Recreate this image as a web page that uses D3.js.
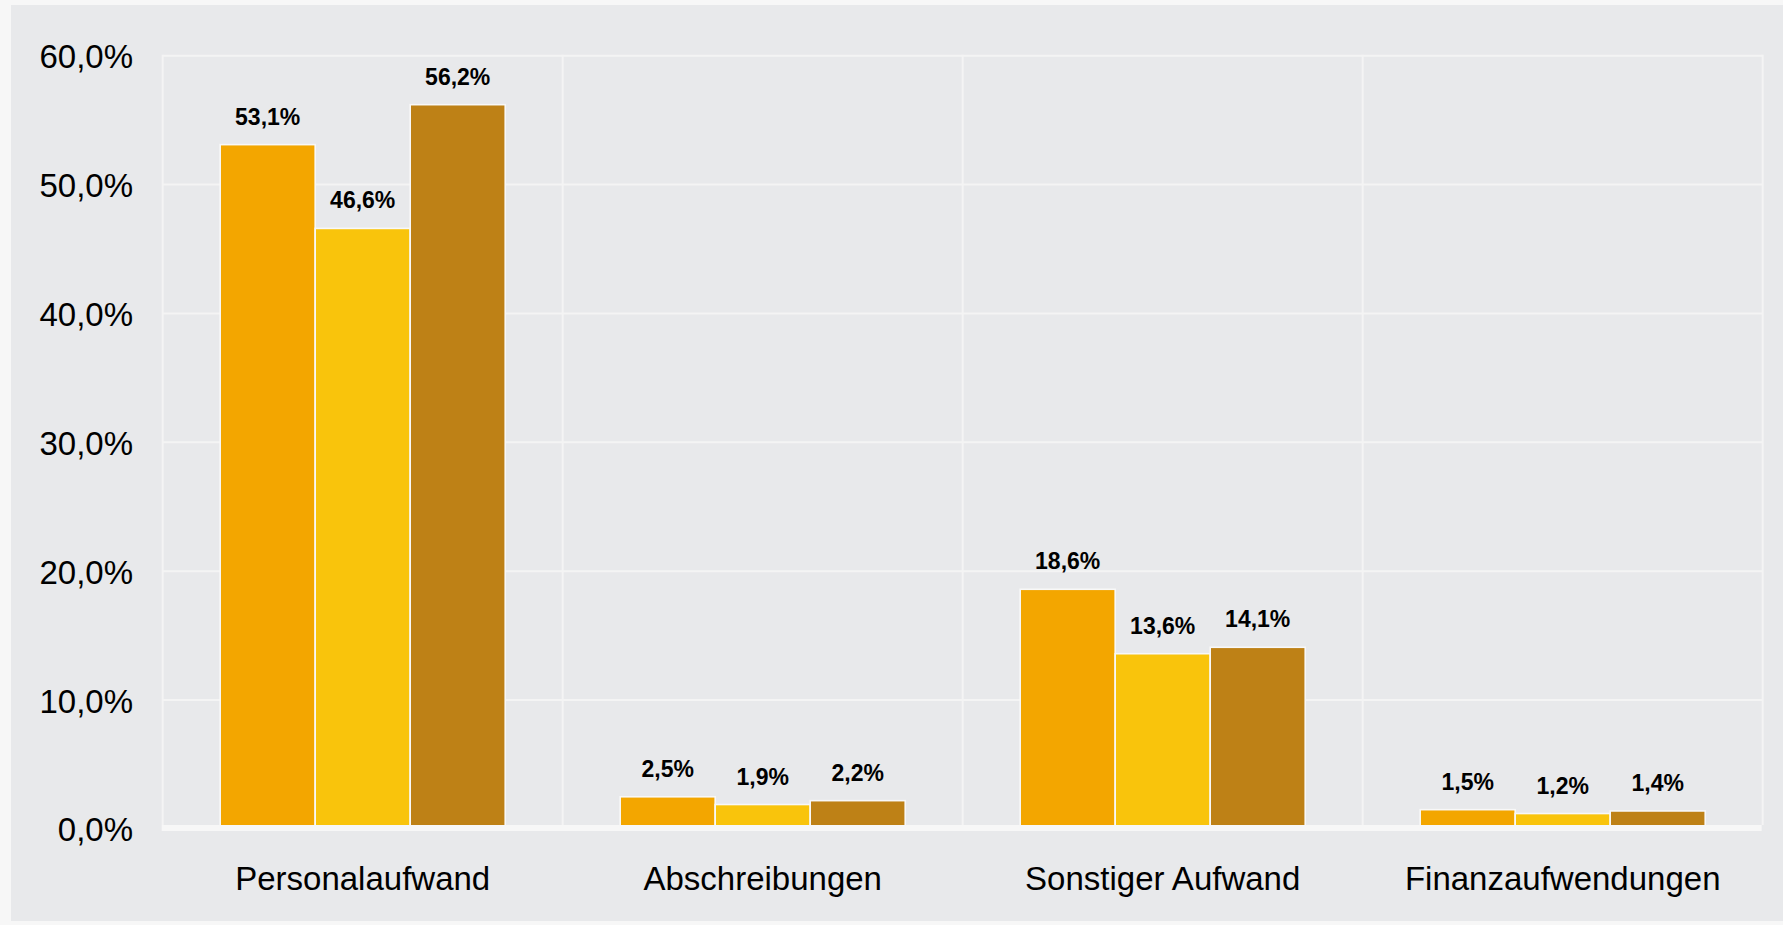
<!DOCTYPE html>
<html lang="de">
<head>
<meta charset="utf-8">
<script src="https://cdn.jsdelivr.net/npm/d3@7"></script>
<style>
  html, body { margin: 0; padding: 0; background: #f7f7f7; }
  svg { display: block; }
  text { font-family: "Liberation Sans", Arial, sans-serif; }
</style>
</head>
<body>
<svg id="chart" width="1783" height="925"></svg>
<script>
// Aufwandsstruktur in Prozent, drei Vergleichsreihen je Kategorie
const categories = ["Personalaufwand", "Abschreibungen", "Sonstiger Aufwand", "Finanzaufwendungen"];
const seriesKeys = ["r1", "r2", "r3"];
const seriesR1 = [53.1, 2.5, 18.6, 1.5];
const seriesR2 = [46.6, 1.9, 13.6, 1.2];
const seriesR3 = [56.2, 2.2, 14.1, 1.4];
const yTicks = [0, 10, 20, 30, 40, 50, 60];
const seriesColors = ["#f3a600", "#f9c40c", "#be8116"];

const seriesValues = [seriesR1, seriesR2, seriesR3];
const rows = categories.map((c, i) => ({
  category: c,
  values: seriesKeys.map((k, j) => ({ key: k, value: seriesValues[j][i] }))
}));

const locale = d3.formatLocale({ decimal: ",", thousands: ".", grouping: [3], currency: ["", " €"] });
const fmt = v => locale.format(".1f")(v) + "%";

const svg = d3.select("#chart");

// Hintergrundfläche
svg.append("rect")
  .attr("x", 11).attr("y", 5)
  .attr("width", 1783 - 11).attr("height", 921 - 5)
  .attr("fill", "#e8e9eb");

const plot = { left: 162.7, right: 1762.7, top: 55.7, zero: 829 };

const x0 = d3.scaleBand().domain(categories).range([plot.left, plot.right]).padding(0);
const x1 = d3.scaleBand().domain(seriesKeys).range([0, x0.bandwidth()])
  .paddingInner(0).paddingOuter(0.605);
const y = d3.scaleLinear().domain([0, 60]).range([plot.zero, plot.top]);
const color = d3.scaleOrdinal().domain(seriesKeys).range(seriesColors);

// Horizontale Gitterlinien
svg.append("g")
  .selectAll("line")
  .data(yTicks.filter(t => t > 0))
  .join("line")
  .attr("x1", plot.left).attr("x2", plot.right)
  .attr("y1", d => y(d)).attr("y2", d => y(d))
  .attr("stroke", "#f4f4f4").attr("stroke-width", 2);

// Vertikale Trennlinien zwischen den Kategorien
const bounds = categories.map(c => x0(c)).concat([plot.right]);
svg.append("g")
  .selectAll("line")
  .data(bounds)
  .join("line")
  .attr("x1", d => d).attr("x2", d => d)
  .attr("y1", plot.top - 1).attr("y2", plot.zero - 4)
  .attr("stroke", "#f4f4f4").attr("stroke-width", 2);

// Balken
const groups = svg.append("g")
  .selectAll("g")
  .data(rows)
  .join("g")
  .attr("transform", d => `translate(${x0(d.category)},0)`);

groups.selectAll("rect")
  .data(d => d.values)
  .join("rect")
  .attr("x", d => x1(d.key))
  .attr("y", d => y(d.value))
  .attr("width", x1.bandwidth())
  .attr("height", d => y(0) - y(d.value))
  .attr("fill", d => color(d.key))
  .attr("stroke", "#f8f8f8")
  .attr("stroke-width", 1.6);

// Wertbeschriftungen
groups.selectAll("text")
  .data(d => d.values)
  .join("text")
  .attr("x", d => x1(d.key) + x1.bandwidth() / 2)
  .attr("y", d => y(d.value) - 20)
  .attr("text-anchor", "middle")
  .attr("font-size", 23)
  .attr("font-weight", "bold")
  .attr("fill", "#000")
  .text(d => fmt(d.value));

// Grundlinie
svg.append("line")
  .attr("x1", plot.left - 1).attr("x2", plot.right - 1)
  .attr("y1", y(0) - 1).attr("y2", y(0) - 1)
  .attr("stroke", "#f7f7f7").attr("stroke-width", 6);

// Y-Achse
const yAxis = d3.axisLeft(y).tickValues(yTicks).tickSize(0).tickPadding(0)
  .tickFormat(fmt);
const ya = svg.append("g")
  .attr("transform", "translate(133,0)")
  .call(yAxis);
ya.select(".domain").remove();
ya.selectAll("text")
  .attr("font-size", 33)
  .attr("fill", "#000")
  .attr("font-family", "\"Liberation Sans\", Arial, sans-serif")
  .attr("dy", "0.36em");

// X-Achse
const xAxis = d3.axisBottom(x0).tickSize(0).tickPadding(0);
const xa = svg.append("g")
  .attr("transform", "translate(0,890)")
  .call(xAxis);
xa.select(".domain").remove();
xa.selectAll("text")
  .attr("font-size", 33)
  .attr("fill", "#000")
  .attr("font-family", "\"Liberation Sans\", Arial, sans-serif")
  .attr("dy", "0");
</script>
</body>
</html>
